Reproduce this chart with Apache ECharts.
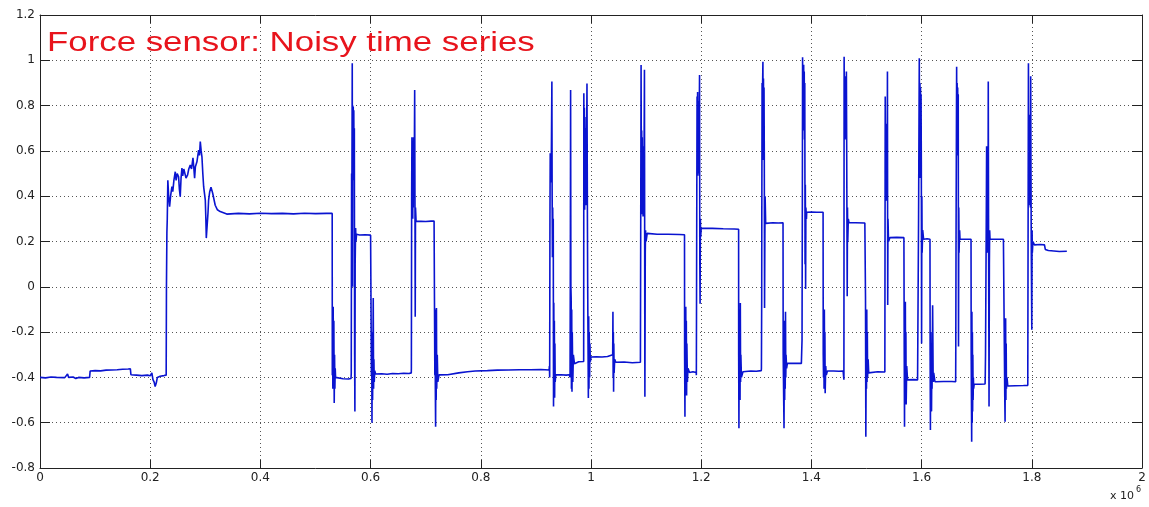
<!DOCTYPE html>
<html>
<head>
<meta charset="utf-8">
<script src="https://cdn.jsdelivr.net/npm/echarts@6/dist/echarts.min.js"></script>
<style>
html,body{margin:0;padding:0;background:#fff;}
#chart{width:1149px;height:507px;}
</style>
</head>
<body>
<div id="chart"></div>
<script>
// Axis ranges: [min, max, interval]; x in units of 10^6 samples
var xRange = [0, 2, 0.2];
var yRange = [-0.8, 1.2, 0.2];
var titleText = 'Force sensor: Noisy time series';
var xScaleText = 'x 10';
var xScaleExp = '6';

// Series values as [t (x10^6), force]
var segBaseline = [
 [0,-0.40],[0.01,-0.402],[0.02,-0.398],[0.03,-0.40],[0.045,-0.401],[0.05,-0.385],[0.052,-0.40],[0.06,-0.398],
 [0.065,-0.405],[0.07,-0.40],[0.08,-0.402],[0.09,-0.40],[0.091,-0.372],[0.10,-0.37],[0.11,-0.371],[0.12,-0.368],
 [0.13,-0.367],[0.14,-0.366],[0.15,-0.364],[0.16,-0.363],[0.164,-0.362],[0.165,-0.388],[0.175,-0.39],[0.185,-0.392],
 [0.195,-0.39],[0.2,-0.393],[0.203,-0.38],[0.205,-0.41],[0.207,-0.42],[0.209,-0.44],[0.211,-0.425],[0.213,-0.40],
 [0.218,-0.395],[0.225,-0.392],[0.229,-0.39]
];
var segLoading = [
 [0.2295,0.0],[0.2303,0.24],[0.231,0.30],[0.232,0.47],[0.2335,0.40],[0.2352,0.354],[0.237,0.40],[0.2394,0.442],
 [0.241,0.42],[0.243,0.47],[0.2455,0.508],[0.247,0.47],[0.249,0.50],[0.2515,0.486],[0.253,0.43],[0.2545,0.398],
 [0.256,0.48],[0.2576,0.524],[0.259,0.49],[0.261,0.52],[0.2636,0.516],[0.265,0.48],[0.2679,0.494],[0.270,0.52],
 [0.2727,0.538],[0.275,0.52],[0.2776,0.569],[0.279,0.53],[0.2806,0.48],[0.282,0.53],[0.2848,0.552],[0.2879,0.604],
 [0.2895,0.58],[0.2909,0.641],[0.2925,0.60],[0.2939,0.574],[0.2955,0.50],[0.297,0.442],[0.300,0.383],[0.301,0.30],
 [0.3018,0.215],[0.303,0.212],[0.3042,0.22],[0.305,0.33],[0.306,0.383],[0.308,0.42],[0.3103,0.44],[0.3133,0.414],
 [0.318,0.36],[0.322,0.34],[0.327,0.332],[0.339,0.321],[0.36,0.324],[0.38,0.322],[0.40,0.325],[0.42,0.323],
 [0.44,0.324],[0.46,0.322],[0.48,0.325],[0.50,0.323],[0.52,0.324],[0.5303,0.324]
];
var segCyclesA = [
 [0.5305,-0.39],[0.531,-0.2],[0.5315,-0.45],[0.5321,-0.088],[0.5327,-0.42],[0.5333,-0.15],[0.534,-0.513],
 [0.5346,-0.30],[0.5352,-0.45],[0.5358,-0.36],[0.5364,-0.40],[0.54,-0.407],[0.55,-0.406],[0.56,-0.407],[0.5645,-0.405],
 [0.5649,-0.38],[0.5655,0.5],[0.566,0.35],[0.5667,0.987],[0.5672,0.0],[0.5676,0.80],[0.568,0.47],[0.5685,0.795],
 [0.569,0.48],[0.5695,0.78],[0.5700,0.50],[0.5705,0.70],[0.571,-0.3],[0.5715,-0.551],[0.572,0.10],[0.5728,0.26],
 [0.5735,0.20],[0.5745,0.232],[0.58,0.229],[0.59,0.23],[0.60,0.228],[0.6012,0.228],[0.6015,-0.39],[0.602,-0.20],
 [0.6025,-0.60],[0.603,-0.25],[0.6036,-0.50],[0.6042,-0.30],[0.6048,-0.05],[0.6054,-0.45],[0.606,-0.32],[0.6066,-0.42],
 [0.6075,-0.37],[0.6091,-0.385],[0.62,-0.384],[0.63,-0.386],[0.64,-0.383],[0.65,-0.384],[0.66,-0.382],[0.67,-0.383],
 [0.6738,-0.38],[0.674,-0.36],[0.6745,0.4],[0.675,0.66],[0.6755,0.32],[0.676,0.62],[0.6765,0.30],[0.677,0.64],
 [0.6775,0.35],[0.678,0.66],[0.679,0.40],[0.680,0.869],[0.6805,0.40],[0.681,-0.132],[0.6815,0.35],[0.6825,0.29],
 [0.6848,0.29],[0.70,0.288],[0.71,0.29],[0.7152,0.29],[0.7164,0.29],[0.7166,-0.39],[0.717,-0.10],[0.7175,-0.45],
 [0.718,-0.618],[0.7185,-0.20],[0.719,-0.50],[0.7195,-0.094],[0.720,-0.45],[0.721,-0.30],[0.722,-0.42],[0.7242,-0.389],
 [0.74,-0.388],[0.76,-0.38],[0.7758,-0.375],[0.79,-0.372],[0.812,-0.37],[0.83,-0.368],[0.85,-0.367],[0.87,-0.366],
 [0.89,-0.366],[0.909,-0.365],[0.924,-0.367]
];
var segCyclesB = [
 [0.9245,-0.35],[0.925,-0.40],[0.9255,0.3],[0.926,0.59],[0.9265,0.46],[0.927,0.58],[0.9275,0.47],[0.928,0.56],
 [0.929,0.906],[0.9295,0.40],[0.930,0.13],[0.9305,0.35],[0.931,0.16],[0.9315,0.30],[0.932,-0.529],[0.9325,-0.07],
 [0.933,-0.45],[0.9335,-0.15],[0.934,-0.49],[0.9345,-0.25],[0.935,-0.42],[0.936,-0.389],[0.945,-0.388],[0.955,-0.39],
 [0.9606,-0.388],[0.962,-0.40],[0.9625,0.1],[0.963,0.869],[0.9635,0.0],[0.964,-0.05],[0.9645,-0.45],[0.965,-0.10],
 [0.9655,-0.463],[0.966,-0.20],[0.967,-0.42],[0.968,-0.30],[0.970,-0.34],[0.9776,-0.331],[0.9867,-0.33],[0.987,0.854],
 [0.9875,0.40],[0.988,0.79],[0.9885,0.34],[0.989,0.75],[0.9895,0.45],[0.990,0.70],[0.9905,0.36],[0.991,0.65],
 [0.9915,0.42],[0.9927,0.898],[0.9935,0.30],[0.994,0.0],[0.9952,-0.491],[0.9958,-0.13],[0.9963,-0.45],[0.9968,-0.20],
 [0.9975,-0.40],[0.998,-0.25],[0.9988,-0.33],[1.0,-0.31],[1.01,-0.309],[1.02,-0.31],[1.03,-0.308],[1.0394,-0.30],
 [1.0398,-0.11],[1.0402,-0.40],[1.0406,-0.20],[1.041,-0.463],[1.0414,-0.25],[1.042,-0.38],[1.043,-0.32],[1.045,-0.333],
 [1.06,-0.332],[1.075,-0.335],[1.0897,-0.333],[1.0905,-0.33],[1.0909,0.979],[1.0915,0.40],[1.092,0.69],[1.0925,0.32],
 [1.093,0.66],[1.0935,0.35],[1.094,0.62],[1.0945,0.31],[1.095,0.55],[1.096,0.40],[1.097,0.958],[1.0978,-0.485],
 [1.0985,0.15],[1.099,0.25],[1.1,0.20],[1.102,0.236],[1.12,0.232],[1.14,0.232],[1.16,0.231],[1.1697,0.23],
 [1.1699,-0.30],[1.1705,-0.574],[1.171,-0.10],[1.1715,-0.45],[1.172,-0.088],[1.1725,-0.40],[1.173,-0.15],[1.1735,-0.48],
 [1.174,-0.25],[1.175,-0.42],[1.176,-0.36],[1.1788,-0.378],[1.185,-0.375],[1.1909,-0.378],[1.1912,-0.39],[1.1918,0.2],
 [1.1925,0.84],[1.193,0.50],[1.1935,0.86],[1.194,0.49],[1.1945,0.82],[1.195,0.50],[1.1955,0.80],[1.196,0.60],
 [1.197,0.935],[1.1975,0.10],[1.198,-0.075],[1.1985,0.30],[1.199,0.22],[1.2,0.258],[1.22,0.258],[1.24,0.256],
 [1.26,0.255],[1.2679,0.254]
];
var segCyclesC = [
 [1.268,-0.30],[1.2685,-0.625],[1.269,-0.10],[1.2695,-0.45],[1.270,-0.20],[1.2705,-0.50],[1.271,-0.072],[1.2715,-0.42],
 [1.272,-0.30],[1.273,-0.40],[1.2758,-0.375],[1.29,-0.372],[1.30,-0.373],[1.309,-0.37],[1.3093,-0.36],[1.3098,-0.05],
 [1.31,0.30],[1.3105,0.9],[1.311,0.56],[1.3115,0.90],[1.312,0.994],[1.3125,0.58],[1.313,0.92],[1.3135,0.56],
 [1.314,0.88],[1.3145,0.60],[1.3150,-0.094],[1.3155,0.20],[1.316,0.40],[1.317,0.28],[1.3185,0.283],[1.33,0.283],
 [1.34,0.282],[1.3485,0.283],[1.3488,-0.30],[1.3503,-0.625],[1.351,-0.15],[1.3515,-0.50],[1.352,-0.20],[1.3525,-0.45],
 [1.353,-0.11],[1.3535,-0.40],[1.354,-0.30],[1.355,-0.36],[1.3564,-0.338],[1.37,-0.338],[1.3818,-0.338],[1.3825,-0.34],
 [1.3830,-0.235],[1.3836,0.4],[1.384,1.013],[1.3845,0.70],[1.385,0.96],[1.3855,0.69],[1.386,0.98],[1.3865,0.70],
 [1.387,0.95],[1.3875,0.65],[1.388,0.90],[1.3885,0.10],[1.389,0.45],[1.3895,-0.01],[1.390,0.35],[1.391,0.30],
 [1.3915,0.329],[1.40,0.33],[1.41,0.329],[1.4212,0.329],[1.4215,-0.30],[1.422,-0.40],[1.4225,-0.15],[1.423,-0.45],
 [1.4235,-0.10],[1.424,-0.42],[1.4245,-0.20],[1.425,-0.47],[1.426,-0.35],[1.427,-0.39],[1.4291,-0.372],[1.44,-0.372],
 [1.45,-0.373],[1.4576,-0.372],[1.459,-0.41],[1.4594,1.016],[1.46,0.65],[1.4605,0.91],[1.461,0.65],[1.4615,0.93],
 [1.462,0.66],[1.4625,0.88],[1.463,0.70],[1.4635,0.95],[1.464,0.65],[1.465,-0.042],[1.4655,0.35],[1.466,0.20],
 [1.467,0.30],[1.4682,0.283],[1.48,0.283],[1.4970,0.282],[1.4976,0.28],[1.4982,-0.048],[1.4988,-0.662],[1.4995,-0.30],
 [1.500,-0.45],[1.5005,-0.10],[1.501,-0.42],[1.5015,-0.20],[1.502,-0.40],[1.503,-0.32],[1.504,-0.38],[1.5061,-0.378],
 [1.52,-0.375],[1.5333,-0.376],[1.5335,-0.37],[1.5338,0.5],[1.534,0.84],[1.5345,0.40],[1.535,0.72],[1.5355,0.40],
 [1.536,0.70],[1.5365,0.38],[1.537,0.70],[1.5375,0.40],[1.538,0.95],[1.5385,-0.08],[1.539,0.30],[1.540,0.20],
 [1.5424,0.217],[1.555,0.218],[1.5679,0.217]
];
var segCyclesD = [
 [1.5685,-0.30],[1.569,-0.618],[1.5695,-0.15],[1.570,-0.50],[1.5705,-0.066],[1.571,-0.45],[1.5715,-0.20],[1.572,-0.52],
 [1.573,-0.35],[1.5745,-0.411],[1.585,-0.41],[1.5927,-0.411],[1.593,-0.41],[1.5945,0.3],[1.5958,1.009],[1.5965,0.50],
 [1.597,0.90],[1.5975,0.48],[1.598,0.88],[1.5985,0.50],[1.599,0.85],[1.5995,0.55],[1.600,-0.25],[1.6005,0.40],
 [1.601,0.15],[1.602,0.25],[1.6036,0.21],[1.61,0.212],[1.6152,0.21],[1.6155,-0.30],[1.616,-0.632],[1.6165,-0.20],
 [1.617,-0.50],[1.6175,-0.25],[1.618,-0.55],[1.6185,-0.35],[1.619,-0.45],[1.620,-0.082],[1.621,-0.42],[1.622,-0.38],
 [1.6242,-0.419],[1.64,-0.418],[1.655,-0.418],[1.6618,-0.419],[1.662,-0.31],[1.6625,0.2],[1.6636,0.972],[1.664,0.58],
 [1.6645,0.90],[1.665,0.58],[1.6655,0.88],[1.666,0.62],[1.6665,0.85],[1.667,-0.264],[1.6675,0.35],[1.668,0.15],
 [1.669,0.25],[1.6697,0.21],[1.68,0.21],[1.6897,0.21],[1.69,-0.30],[1.6909,-0.684],[1.6913,-0.11],[1.6918,-0.60],
 [1.6922,-0.20],[1.6926,-0.55],[1.693,-0.30],[1.6935,-0.50],[1.694,-0.40],[1.6945,-0.45],[1.6955,-0.429],[1.705,-0.43],
 [1.7152,-0.429],[1.7155,-0.40],[1.716,-0.30],[1.7175,0.35],[1.718,0.62],[1.7185,0.20],[1.719,0.58],[1.7195,0.15],
 [1.720,0.55],[1.7205,0.25],[1.721,0.906],[1.7215,0.30],[1.7224,-0.529],[1.723,0.10],[1.7235,0.25],[1.7242,0.21],
 [1.735,0.21],[1.7485,0.21],[1.7503,-0.30],[1.751,-0.50],[1.7515,-0.596],[1.752,-0.20],[1.7525,-0.139],[1.753,-0.50],
 [1.7535,-0.25],[1.754,-0.45],[1.755,-0.40],[1.7564,-0.438],[1.77,-0.437],[1.785,-0.436],[1.7927,-0.435],[1.7935,-0.43],
 [1.7939,0.987],[1.7945,0.36],[1.795,0.76],[1.7955,0.38],[1.796,0.75],[1.7965,0.40],[1.797,0.72],[1.7975,0.35],
 [1.798,0.93],[1.7985,0.50],[1.799,0.20],[1.800,-0.19],[1.8005,0.25],[1.801,0.15],[1.802,0.20],[1.8048,0.185],
 [1.815,0.187],[1.823,0.185],[1.8245,0.165],[1.83,0.16],[1.84,0.158],[1.85,0.156],[1.8636,0.157]
];

var forceTrace = [].concat(segBaseline, segLoading, segCyclesA, segCyclesB, segCyclesC, segCyclesD);

var chart = echarts.init(document.getElementById('chart'), null, {renderer: 'canvas'});
var axisColor = '#222';
var gridDash = {type: [1, 3], color: '#555', width: 1};
var labelFont = {color: '#222', fontFamily: 'DejaVu Sans', fontSize: 12};

chart.setOption({
  animation: false,
  backgroundColor: '#fff',
  grid: {left: 40, right: 7, top: 15, bottom: 39, containLabel: false},
  xAxis: [{
    type: 'value', min: xRange[0], max: xRange[1], interval: xRange[2], position: 'bottom',
    axisLine: {show: true, onZero: false, lineStyle: {color: axisColor, width: 1}},
    axisTick: {show: true, inside: true, length: 8, lineStyle: {color: axisColor}},
    axisLabel: Object.assign({margin: 4, showMinLabel: true, showMaxLabel: true}, labelFont),
    splitLine: {show: true, lineStyle: gridDash}
  }, {
    type: 'value', min: xRange[0], max: xRange[1], interval: xRange[2], position: 'top',
    axisLine: {show: true, onZero: false, lineStyle: {color: axisColor, width: 1}},
    axisTick: {show: true, inside: true, length: 8, lineStyle: {color: axisColor}},
    axisLabel: {show: false}, splitLine: {show: false}
  }],
  yAxis: [{
    type: 'value', min: yRange[0], max: yRange[1], interval: yRange[2], position: 'left',
    axisLine: {show: true, onZero: false, lineStyle: {color: axisColor, width: 1}},
    axisTick: {show: true, inside: true, length: 10, lineStyle: {color: axisColor}},
    axisLabel: Object.assign({margin: 5, showMinLabel: true, showMaxLabel: true}, labelFont),
    splitLine: {show: true, lineStyle: gridDash}
  }, {
    type: 'value', min: yRange[0], max: yRange[1], interval: yRange[2], position: 'right',
    axisLine: {show: true, onZero: false, lineStyle: {color: axisColor, width: 1}},
    axisTick: {show: true, inside: true, length: 10, lineStyle: {color: axisColor}},
    axisLabel: {show: false}, splitLine: {show: false}
  }],
  series: [{
    type: 'line', xAxisIndex: 0, yAxisIndex: 0,
    data: forceTrace, showSymbol: false, symbol: 'none', sampling: null,
    lineStyle: {color: '#0a14d0', width: 1.6},
    emphasis: {disabled: true}
  }],
  graphic: [{
    type: 'text', x: 47, y: 44, scaleX: 1.29, silent: true, z: 100,
    style: {text: titleText, x: 0, y: 0, fill: '#e8141c', fontFamily: 'Liberation Sans', fontSize: 27,
            align: 'left', verticalAlign: 'middle'}
  }, {
    type: 'text', x: 1110, y: 496, silent: true,
    style: {text: xScaleText, fill: '#222', fontFamily: 'DejaVu Sans', fontSize: 11, align: 'left', verticalAlign: 'middle'}
  }, {
    type: 'text', x: 1136, y: 490, silent: true,
    style: {text: xScaleExp, fill: '#222', fontFamily: 'DejaVu Sans', fontSize: 8, align: 'left', verticalAlign: 'middle'}
  }]
});
</script>
</body>
</html>
